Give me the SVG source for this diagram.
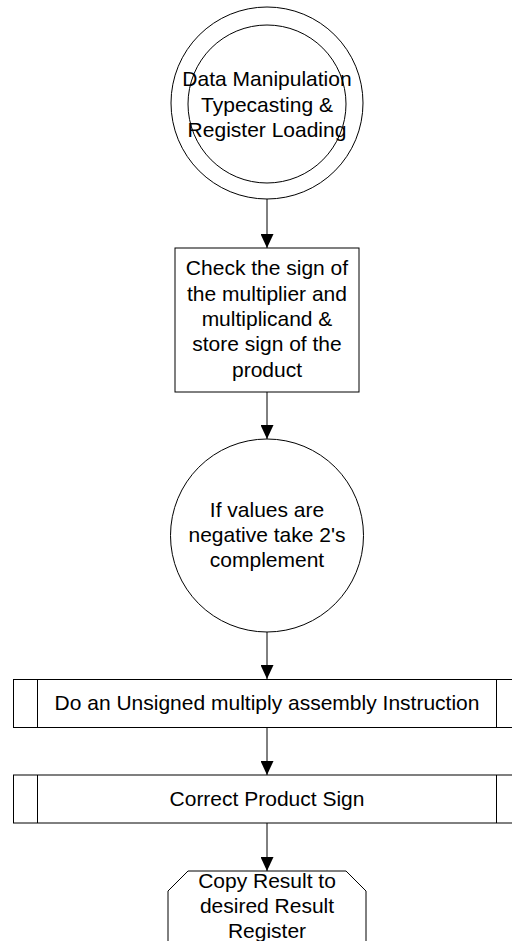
<svg xmlns="http://www.w3.org/2000/svg" width="512" height="941" viewBox="0 0 512 941">
<style>
.s{fill:#fff;stroke:#000;stroke-width:1}
.t{font-family:"Liberation Sans",Arial,sans-serif;font-size:21px;text-anchor:middle;fill:#000}
.c{fill:none;stroke:#000;stroke-width:1}
</style>
<defs>
<marker id="ah" markerUnits="userSpaceOnUse" markerWidth="14" markerHeight="13" refX="14" refY="6.5" orient="auto">
<path d="M0,0 L14,6.5 L0,13 z" fill="#000"/>
</marker>
</defs>
<rect width="512" height="941" fill="#fff"/>
<g id="connectors">
<line class="c" x1="267" y1="199" x2="267" y2="248" marker-end="url(#ah)"/>
<line class="c" x1="267" y1="392" x2="267" y2="439" marker-end="url(#ah)"/>
<line class="c" x1="267" y1="632" x2="267" y2="679" marker-end="url(#ah)"/>
<line class="c" x1="267" y1="727" x2="267" y2="775" marker-end="url(#ah)"/>
<line class="c" x1="267" y1="823" x2="267" y2="871" marker-end="url(#ah)"/>
</g>
<g id="n1">
<circle class="s" cx="267" cy="103" r="96"/>
<circle class="s" cx="267" cy="104" r="79"/>
<text class="t" x="267" y="86">Data Manipulation</text>
<text class="t" x="267" y="111.5">Typecasting &amp;</text>
<text class="t" x="267" y="137">Register Loading</text>
</g>
<g id="n2">
<rect class="s" x="175" y="248" width="184" height="144"/>
<text class="t" x="267" y="275">Check the sign of</text>
<text class="t" x="267" y="300.5">the multiplier and</text>
<text class="t" x="267" y="326">multiplicand &amp;</text>
<text class="t" x="267" y="351">store sign of the</text>
<text class="t" x="267" y="376.5">product</text>
</g>
<g id="n3">
<circle class="s" cx="267" cy="535.5" r="96.5"/>
<text class="t" x="267" y="516.5">If values are</text>
<text class="t" x="267" y="541.5">negative take 2's</text>
<text class="t" x="267" y="566.5">complement</text>
</g>
<g id="n4">
<rect class="s" x="13.5" y="679.5" width="507" height="48"/>
<line class="c" x1="37.5" y1="679.5" x2="37.5" y2="727.5"/>
<line class="c" x1="496.5" y1="679.5" x2="496.5" y2="727.5"/>
<text class="t" x="267" y="710">Do an Unsigned multiply assembly Instruction</text>
</g>
<g id="n5">
<rect class="s" x="13.5" y="775" width="507" height="48"/>
<line class="c" x1="37.5" y1="775" x2="37.5" y2="823"/>
<line class="c" x1="496.5" y1="775" x2="496.5" y2="823"/>
<text class="t" x="267" y="805.5">Correct Product Sign</text>
</g>
<g id="n6">
<path class="s" d="M168,960 L168,891 L188,871 L346,871 L366,891 L366,960"/>
<text class="t" x="267" y="888">Copy Result to</text>
<text class="t" x="267" y="913">desired Result</text>
<text class="t" x="267" y="938">Register</text>
</g>
</svg>
